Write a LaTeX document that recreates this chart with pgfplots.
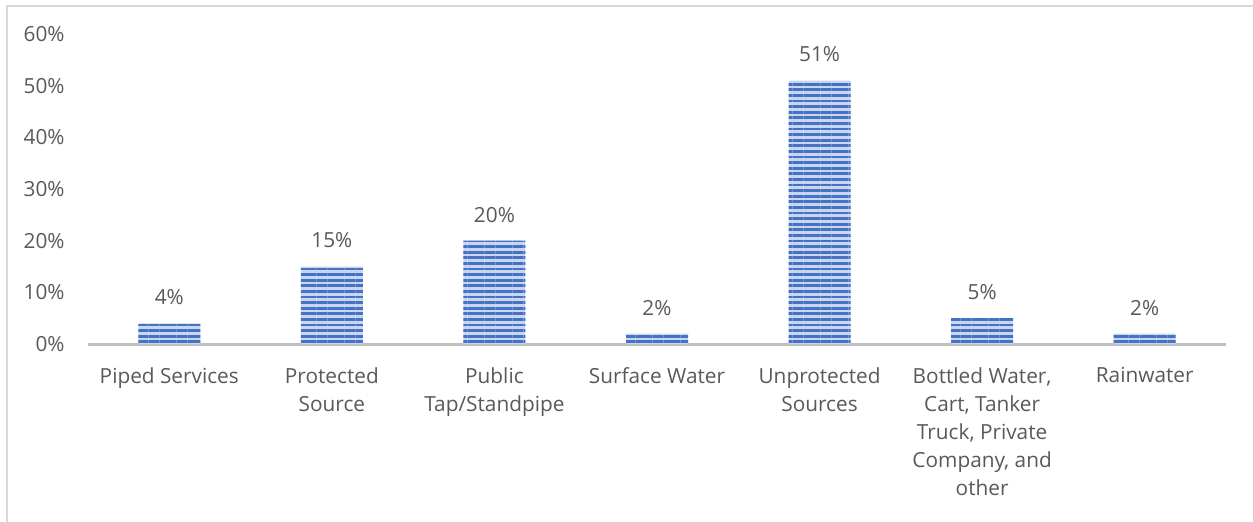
\documentclass[border=0pt]{standalone}
\usepackage{fontspec}
\setmainfont{Open Sans}
\usepackage{pgfplots}
\pgfplotsset{compat=1.18}
\usetikzlibrary{patterns.meta}

\definecolor{barblue}{HTML}{4472C4}
\definecolor{barlight}{HTML}{C9D6EE}
\definecolor{tickgray}{HTML}{595959}
\definecolor{axgray}{HTML}{BFBFBF}
\definecolor{framegray}{HTML}{D9D9D9}

\newcommand{\chartfont}{\fontsize{10.4}{14}\selectfont}

\begin{document}
\begin{tikzpicture}[x=1pt,y=1pt]
\useasboundingbox (0,0) rectangle (626.5,260.5);
% chart area frame (top and left edges)
\draw[framegray, line width=1pt] (3.5,-5) -- (3.5,257.5) -- (640,257.5);
\begin{axis}[
  at={(44pt,88.5pt)}, anchor=south west,
  scale only axis, width=569pt, height=155pt,
  ymin=0, ymax=60, xmin=-0.5, xmax=6.5,
  ybar, bar width=31pt,
  /pgf/number format/assume math mode=true,
  axis x line*=bottom, axis y line*=left,
  x axis line style={axgray, line width=1.5pt, -},
  y axis line style={draw=none},
  major tick length=0pt,
  ytick={0,10,20,30,40,50,60},
  yticklabels={0\%,10\%,20\%,30\%,40\%,50\%,60\%},
  yticklabel style={font=\chartfont, text=tickgray, anchor=east, inner sep=0pt, xshift=-11.5pt},
  xtick={0,1,2,3,4,5,6},
  xticklabels={Piped Services, Protected\\Source, Public\\Tap/Standpipe, Surface Water,
    Unprotected\\Sources, {Bottled Water,\\Cart, Tanker\\Truck, Private\\Company, and\\other}, Rainwater},
  xticklabel style={font=\chartfont, text=tickgray, align=center, anchor=north, inner sep=0pt, yshift=-11.5pt},
  clip=false,
]
% light base of each bar
\addplot[draw=none, fill=barlight, bar shift=0pt]
  coordinates {(0,4) (1,15) (2,20) (3,2) (4,51) (5,5) (6,2)};
% blue horizontal stripes over the base, with the value labels
\addplot[draw=none, bar shift=0pt,
  pattern={Lines[angle=0,distance=2.8pt,line width=1.4pt]}, pattern color=barblue,
  nodes near coords={\pgfmathprintnumber{\pgfplotspointmeta}\%},
  nodes near coords style={font=\chartfont, text=tickgray, anchor=south, inner sep=0pt, yshift=9pt}]
  coordinates {(0,4) (1,15) (2,20) (3,2) (4,51) (5,5) (6,2)};
\end{axis}
\end{tikzpicture}
\end{document}
